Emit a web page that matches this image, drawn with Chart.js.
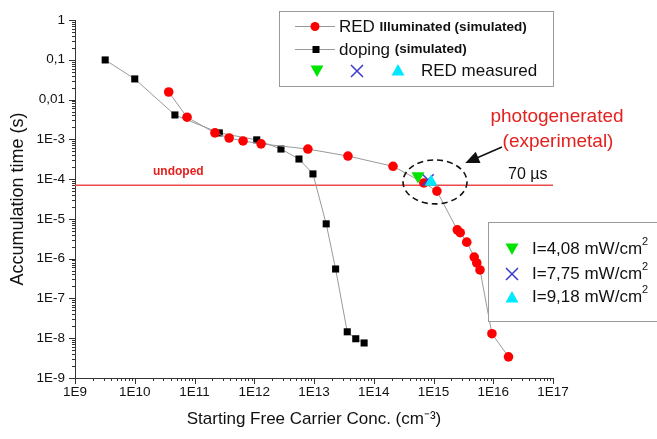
<!DOCTYPE html>
<html>
<head>
<meta charset="utf-8">
<script src="https://cdn.jsdelivr.net/npm/chart.js@4.4.0/dist/chart.umd.min.js"></script>
<style>
  html, body { margin: 0; padding: 0; background: #fff; }
  #wrap { width: 657px; height: 439px; }
</style>
</head>
<body>
<div id="wrap"><canvas id="grafico" width="657" height="439"></canvas></div>
<script>
// doping (simulated)
const dopingX = [3.2e9, 1.0e10, 4.7e10, 2.6e11, 1.1e12, 2.8e12, 5.6e12, 9.6e12, 1.6e13, 2.3e13, 3.6e13, 5.0e13, 6.9e13];
const dopingY = [0.099, 0.033, 4.1e-3, 1.45e-3, 9.7e-4, 5.7e-4, 3.2e-4, 1.35e-4, 7.5e-6, 5.5e-7, 1.45e-8, 9.7e-9, 7.6e-9];

// RED illuminated (simulated)
const redX = [3.7e10, 7.5e10, 2.2e11, 3.8e11, 6.5e11, 1.3e12, 7.9e12, 3.7e13, 2.1e14, 6.9e14, 1.14e15, 2.5e15, 2.8e15, 3.6e15, 4.8e15, 5.3e15, 6.0e15, 9.5e15, 1.8e16];
const redY = [0.0155, 3.6e-3, 1.45e-3, 1.08e-3, 9.1e-4, 7.7e-4, 5.7e-4, 3.8e-4, 2.1e-4, 8.0e-5, 5.0e-5, 5.3e-6, 4.5e-6, 2.6e-6, 1.1e-6, 7.8e-7, 5.2e-7, 1.3e-8, 3.4e-9];

// RED measured (I = 4,08 / 7,75 / 9,18 mW/cm2)
const medidoX = [5.5e14, 8.1e14, 9.1e14];
const medidoY = [1.2e-4, 9.5e-5, 8.5e-5];
const intensidades = ['4,08', '7,75', '9,18'];

// undoped level, 70 us
const undopedY = 7e-5;

const xTicks = [1e9, 1e10, 1e11, 1e12, 1e13, 1e14, 1e15, 1e16, 1e17];
const yTicks = [1e-9, 1e-8, 1e-7, 1e-6, 1e-5, 1e-4, 1e-3, 1e-2, 1e-1, 1];

const ROJO = '#ff0000';
const GRIS = '#999999';
const VERDE = '#00e400';
const AZUL = '#3a3acc';
const CIAN = '#00e8ff';
const ROJO_TXT = '#e3211f';
const FUENTE = '"Liberation Sans", Arial, sans-serif';

function puntos(xs, ys) {
    return xs.map((x, i) => ({ x: x, y: ys[i] }));
}

function etiquetaY(v) {
    if (v === 1) return '1';
    if (Math.abs(v - 0.1) < 1e-9) return '0,1';
    if (Math.abs(v - 0.01) < 1e-10) return '0,01';
    return '1E' + Math.round(Math.log10(v));
}

// marcadores sueltos para las leyendas
function marcador(ctx, tipo, x, y, color) {
    ctx.save();
    ctx.fillStyle = color;
    ctx.strokeStyle = color;
    ctx.beginPath();
    if (tipo === 'circulo') {
        ctx.arc(x, y, 4.5, 0, Math.PI * 2);
        ctx.fill();
    } else if (tipo === 'cuadro') {
        ctx.fillRect(x - 3.5, y - 3.5, 7, 7);
    } else if (tipo === 'abajo') {
        ctx.moveTo(x - 6.5, y - 5.5);
        ctx.lineTo(x + 6.5, y - 5.5);
        ctx.lineTo(x, y + 6);
        ctx.closePath();
        ctx.fill();
    } else if (tipo === 'arriba') {
        ctx.moveTo(x - 6.5, y + 5.5);
        ctx.lineTo(x + 6.5, y + 5.5);
        ctx.lineTo(x, y - 6);
        ctx.closePath();
        ctx.fill();
    } else if (tipo === 'cruz') {
        ctx.lineWidth = 1.5;
        ctx.moveTo(x - 6, y - 6); ctx.lineTo(x + 6, y + 6);
        ctx.moveTo(x + 6, y - 6); ctx.lineTo(x - 6, y + 6);
        ctx.stroke();
    }
    ctx.restore();
}

function textoMixto(ctx, x, y, partes) {
    partes.forEach(p => {
        ctx.font = p.font;
        ctx.fillText(p.t, x, y + (p.dy || 0));
        x += ctx.measureText(p.t).width;
    });
}

const extras = {
    id: 'extras',
    afterDraw(chart) {
        const ctx = chart.ctx;
        const xs = chart.scales.x, ys = chart.scales.y;
        const a = chart.chartArea;

        // marcas de los ejes (mayores y menores)
        ctx.save();
        ctx.strokeStyle = '#333';
        ctx.lineWidth = 1;
        ctx.beginPath();
        for (let e = 9; e <= 17; e++) {
            for (let m = 1; m < 10; m++) {
                if (e === 17 && m > 1) break;
                const px = Math.round(xs.getPixelForValue(m * Math.pow(10, e))) + 0.5;
                const len = m === 1 ? 6 : 3;
                ctx.moveTo(px, a.bottom);
                ctx.lineTo(px, a.bottom + len);
            }
        }
        for (let e = -9; e <= 0; e++) {
            for (let m = 1; m < 10; m++) {
                if (e === 0 && m > 1) break;
                const py = Math.round(ys.getPixelForValue(m * Math.pow(10, e))) + 0.5;
                const len = m === 1 ? 6 : 3;
                ctx.moveTo(a.left, py);
                ctx.lineTo(a.left - len, py);
            }
        }
        ctx.stroke();
        ctx.restore();

        // anotaciones
        const yLinea = ys.getPixelForValue(undopedY);
        ctx.save();
        ctx.fillStyle = ROJO_TXT;
        ctx.font = 'bold 12px ' + FUENTE;
        ctx.textBaseline = 'alphabetic';
        ctx.fillText('undoped', 153, yLinea - 10);
        ctx.fillStyle = '#111';
        ctx.font = '16px ' + FUENTE;
        ctx.fillText('70 \u00b5s', 508, yLinea - 6);
        ctx.fillStyle = ROJO_TXT;
        ctx.font = '19px ' + FUENTE;
        ctx.textAlign = 'center';
        ctx.fillText('photogenerated', 557, 122);
        ctx.fillText('(experimetal)', 558, 147);
        ctx.restore();

        // elipse discontinua
        const cx = xs.getPixelForValue(1.06e15), cy = ys.getPixelForValue(8.5e-5);
        ctx.save();
        ctx.strokeStyle = '#111';
        ctx.lineWidth = 1.6;
        ctx.setLineDash([6, 4]);
        ctx.beginPath();
        ctx.ellipse(cx, cy, 32, 22, 0, 0, Math.PI * 2);
        ctx.stroke();
        ctx.restore();

        // flecha
        const x0 = xs.getPixelForValue(1.4e16), y0 = ys.getPixelForValue(6.4e-4);
        const x1 = xs.getPixelForValue(3.4e15), y1 = ys.getPixelForValue(2.55e-4);
        const ang = Math.atan2(y1 - y0, x1 - x0);
        ctx.save();
        ctx.strokeStyle = '#111';
        ctx.fillStyle = '#111';
        ctx.lineWidth = 1.5;
        ctx.beginPath();
        ctx.moveTo(x0, y0);
        ctx.lineTo(x1 - 10 * Math.cos(ang), y1 - 10 * Math.sin(ang));
        ctx.stroke();
        ctx.beginPath();
        ctx.moveTo(x1, y1);
        ctx.lineTo(x1 - 14 * Math.cos(ang) + 6 * Math.sin(ang), y1 - 14 * Math.sin(ang) - 6 * Math.cos(ang));
        ctx.lineTo(x1 - 14 * Math.cos(ang) - 6 * Math.sin(ang), y1 - 14 * Math.sin(ang) + 6 * Math.cos(ang));
        ctx.closePath();
        ctx.fill();
        ctx.restore();

        // leyenda principal
        ctx.save();
        ctx.fillStyle = '#fff';
        ctx.fillRect(279, 11, 274, 75);
        ctx.strokeStyle = '#9a9a9a';
        ctx.lineWidth = 1;
        ctx.strokeRect(279.5, 11.5, 274, 75);
        ctx.strokeStyle = GRIS;
        ctx.beginPath();
        ctx.moveTo(295, 26.5); ctx.lineTo(335, 26.5);
        ctx.moveTo(295, 49.5); ctx.lineTo(335, 49.5);
        ctx.stroke();
        marcador(ctx, 'circulo', 315, 26.5, ROJO);
        marcador(ctx, 'cuadro', 316, 49.5, '#000');
        marcador(ctx, 'abajo', 317, 71, VERDE);
        marcador(ctx, 'cruz', 357, 71, AZUL);
        marcador(ctx, 'arriba', 398, 70, CIAN);
        ctx.fillStyle = '#111';
        ctx.textBaseline = 'middle';
        textoMixto(ctx, 339, 27, [
            { t: 'RED ', font: '17px ' + FUENTE },
            { t: 'Illuminated (simulated)', font: 'bold 13.5px ' + FUENTE }
        ]);
        textoMixto(ctx, 339, 50, [
            { t: 'doping ', font: '17px ' + FUENTE },
            { t: '(simulated)', font: 'bold 13.5px ' + FUENTE, dy: -1 }
        ]);
        ctx.font = '17px ' + FUENTE;
        ctx.fillText('RED measured', 421, 71);

        // leyenda de intensidades
        ctx.fillStyle = '#fff';
        ctx.fillRect(488, 222, 170, 99);
        ctx.strokeStyle = '#9a9a9a';
        ctx.strokeRect(488.5, 222.5, 170, 99);
        const tipos = ['abajo', 'cruz', 'arriba'];
        const colores = [VERDE, AZUL, CIAN];
        const filas = [249, 274, 297];
        intensidades.forEach((v, i) => {
            marcador(ctx, tipos[i], 512, filas[i], colores[i]);
            ctx.fillStyle = '#111';
            textoMixto(ctx, 532, filas[i], [
                { t: 'I=' + v + ' mW/cm', font: '17px ' + FUENTE },
                { t: '2', font: '11px ' + FUENTE, dy: -7 }
            ]);
        });
        ctx.restore();
    }
};

const ctx = document.getElementById('grafico').getContext('2d');
const grafico = new Chart(ctx, {
    type: 'line',
    data: {
        datasets: [
            {
                data: puntos([medidoX[0]], [medidoY[0]]),
                showLine: false,
                pointStyle: 'triangle',
                rotation: 180,
                pointRadius: 7.5,
                pointBackgroundColor: VERDE,
                pointBorderColor: VERDE,
                pointBorderWidth: 0
            },
            {
                data: puntos([medidoX[2]], [medidoY[2]]),
                showLine: false,
                pointStyle: 'triangle',
                pointRadius: 7.5,
                pointBackgroundColor: CIAN,
                pointBorderColor: CIAN,
                pointBorderWidth: 0
            },
            {
                data: puntos([medidoX[1]], [medidoY[1]]),
                showLine: false,
                pointStyle: 'crossRot',
                pointRadius: 8,
                pointBorderColor: AZUL,
                pointBorderWidth: 1.5
            },
            {
                data: puntos(redX, redY),
                borderColor: GRIS,
                borderWidth: 1,
                pointStyle: 'circle',
                pointRadius: 4.8,
                pointBackgroundColor: ROJO,
                pointBorderColor: ROJO,
                pointBorderWidth: 0
            },
            {
                data: puntos(dopingX, dopingY),
                borderColor: GRIS,
                borderWidth: 1,
                pointStyle: 'rect',
                pointRadius: 5,
                pointBackgroundColor: '#000',
                pointBorderColor: '#000',
                pointBorderWidth: 0
            },
            {
                data: [{ x: xTicks[0], y: undopedY }, { x: xTicks[xTicks.length - 1], y: undopedY }],
                borderColor: '#ea4b4b',
                borderWidth: 1.5,
                pointRadius: 0
            }
        ]
    },
    options: {
        responsive: false,
        animation: false,
        layout: { padding: { top: 20, right: 104, left: 0, bottom: 0 } },
        plugins: {
            legend: { display: false },
            tooltip: { enabled: false }
        },
        scales: {
            x: {
                type: 'logarithmic',
                min: 1e9,
                max: 1e17,
                afterBuildTicks: s => { s.ticks = xTicks.map(v => ({ value: v })); },
                afterFit: s => { s.height = 61; },
                grid: { display: false, drawTicks: true, tickLength: 4 },
                border: { display: true, color: '#333', width: 1 },
                ticks: {
                    color: '#111',
                    padding: 2,
                    maxRotation: 0,
                    autoSkip: false,
                    font: { family: FUENTE, size: 13.5 },
                    callback: v => '1E' + Math.round(Math.log10(v))
                },
                title: {
                    display: true,
                    text: 'Starting Free Carrier Conc. (cm\u207b\u00b3)',
                    color: '#111',
                    font: { family: FUENTE, size: 17 },
                    padding: { top: 0, bottom: 9 }
                }
            },
            y: {
                type: 'logarithmic',
                min: 1e-9,
                max: 1,
                afterBuildTicks: s => { s.ticks = yTicks.map(v => ({ value: v })); },
                afterFit: s => { s.width = 75; },
                grid: { display: false, drawTicks: true, tickLength: 6 },
                border: { display: true, color: '#333', width: 1 },
                ticks: {
                    color: '#111',
                    padding: 4,
                    autoSkip: false,
                    font: { family: FUENTE, size: 13.5 },
                    callback: v => etiquetaY(v)
                },
                title: {
                    display: true,
                    text: 'Accumulation time (s)',
                    color: '#111',
                    font: { family: FUENTE, size: 18 },
                    padding: { top: 7, bottom: 0 }
                }
            }
        }
    },
    plugins: [extras]
});
</script>
</body>
</html>
